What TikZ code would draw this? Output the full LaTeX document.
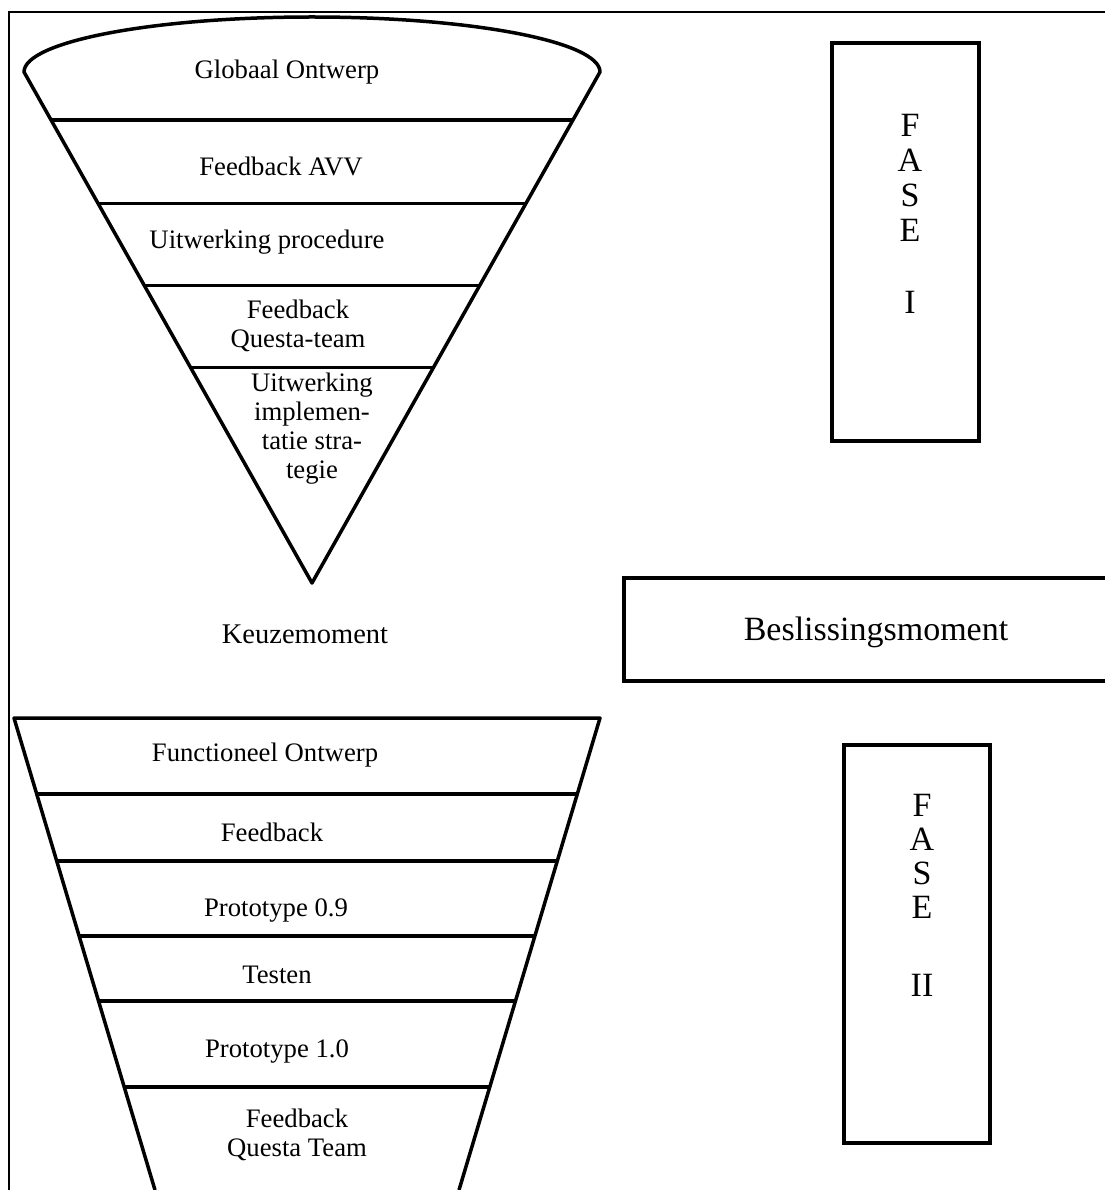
\documentclass[tikz,border=0pt]{standalone}
\usepackage{fontspec}
\setmainfont{Liberation Serif}
\usetikzlibrary{calc}

\begin{document}
\begin{tikzpicture}[x=1pt,y=-1pt,
  rand/.style={line width=3.5pt,line join=round},
  tekst/.style={font=\fontsize{26.7}{29}\selectfont,align=center,inner sep=0pt},
  fase/.style={font=\fontsize{34}{36}\selectfont,inner sep=0pt}]
\useasboundingbox (0,0) rectangle (1105,1190);
\draw[line width=1.3pt] (9,1190)--(9,12)--(1105,12);
% bovenste trechter
\coordinate (L) at (24,72); \coordinate (R) at (600,72); \coordinate (T) at (312,583);
\draw[rand] (L) arc[start angle=180,end angle=0,x radius=288pt,y radius=55pt] -- (T) -- cycle;
\foreach \t in {0.094,0.257,0.418,0.578} \draw[rand] ($(L)!\t!(T)$)--($(R)!\t!(T)$);
\node[tekst] (g) at (287,72) {Globaal Ontwerp};
\node[tekst] (fa) at (281,166) {Feedback AVV};
\node[tekst] (up) at (267,242) {Uitwerking procedure};
\node[tekst] (fq) at (298,326) {Feedback\\Questa-team};
\node[tekst] (ui) at (312,429) {Uitwerking\\implemen-\\tatie stra-\\tegie};
\node[tekst,font=\fontsize{28.5}{30}\selectfont] (k) at (305,634) {Keuzemoment};
% onderste trechter
\coordinate (P) at (14,718); \coordinate (Q) at (600,718);
\coordinate (PB) at (155,1190); \coordinate (QB) at (459,1190);
\draw[rand] (PB)--(P)--(Q)--(QB);
\foreach \t in {0.161,0.303,0.462,0.600,0.782} \draw[rand] ($(P)!\t!(PB)$)--($(Q)!\t!(QB)$);
\node[tekst] (fo) at (265,755) {Functioneel Ontwerp};
\node[tekst] (fb) at (272,832) {Feedback};
\node[tekst] (p9) at (276,910) {Prototype 0.9};
\node[tekst] (te) at (277,975) {Testen};
\node[tekst] (p1) at (277,1051) {Prototype 1.0};
\node[tekst] (ft) at (297,1135) {Feedback\\Questa Team};
% beslissing
\draw[line width=4.5pt] (1105,578) -| (624,681) -- (1105,681);
\node[fase] (b) at (876,632) {Beslissingsmoment};
% fasen
\draw[line width=4.5pt] (832,43) rectangle (979,441);
\foreach \c/\y in {F/125,A/160,S/195,E/230,I/302} \node[fase] (f1\c) at (910,\y) {\c};
\draw[line width=4.5pt] (844,745) rectangle (990,1143);
\foreach \c/\y in {F/805,A/839,S/873,E/907,II/985} \node[fase] (f2\c) at (922,\y) {\c};
\end{tikzpicture}
\end{document}
